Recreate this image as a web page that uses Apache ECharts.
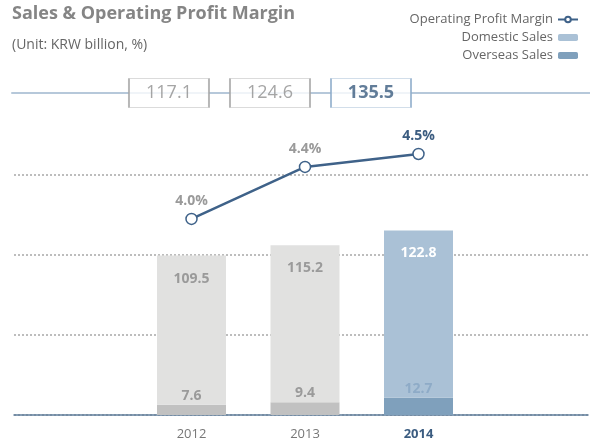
<!DOCTYPE html>
<html>
<head>
<meta charset="utf-8">
<script src="https://cdn.jsdelivr.net/npm/echarts@6/dist/echarts.min.js"></script>
<style>
  html, body { margin: 0; padding: 0; background: #fff; }
  #chart { width: 590px; height: 443px; }
</style>
</head>
<body>
<div id="chart"></div>
<script>
// data
var years = ['2012', '2013', '2014'];
var domesticSales = [109.5, 115.2, 122.8];
var overseasSales = [7.6, 9.4, 12.7];
var profitMargin = [4.0, 4.4, 4.5];
var totals = [117.1, 124.6, 135.5];

var FONT = '"Open Sans", sans-serif';
var GREY_TXT = '#9a9a9a';
var BLUE_TXT = '#3b5c80';

var myChart = echarts.init(document.getElementById('chart'));

var hl = years.length - 1; // highlighted year (2014)

var option = {
    animation: false,
    textStyle: { fontFamily: FONT },
    title: {
        text: 'Sales & Operating Profit Margin',
        subtext: '(Unit: KRW billion, %)',
        left: 7,
        top: 0,
        itemGap: 15,
        textStyle: { fontSize: 18, fontWeight: 'bold', color: '#858585', fontFamily: FONT },
        subtextStyle: { fontSize: 14, color: '#666', fontFamily: FONT }
    },
    legend: {
        orient: 'vertical',
        right: 6,
        top: 8,
        align: 'right',
        itemWidth: 20,
        itemHeight: 7,
        itemGap: 5,
        textStyle: { fontSize: 13, color: '#666', fontFamily: FONT },
        data: ['Operating Profit Margin', 'Domestic Sales', 'Overseas Sales']
    },
    grid: [
        // 0: full-width background gridlines + baseline
        { left: 14, right: 2, top: 175, bottom: 28 },
        // 1: bars and line
        { left: 134.75, right: 114.75, top: 95, bottom: 28 },
        // 2: total boxes on their rule
        { left: 12, right: 0, top: 60, height: 33 }
    ],
    xAxis: [
        {
            gridIndex: 0, type: 'value', min: 0, max: 1,
            axisLine: { show: true, lineStyle: { color: '#5f7d9c', width: 1.5 } },
            axisTick: { show: false }, axisLabel: { show: false }, splitLine: { show: false }
        },
        {
            gridIndex: 1, type: 'category', data: years,
            axisLine: { show: false }, axisTick: { show: false },
            axisLabel: {
                margin: 13,
                formatter: function (v, i) { return i === hl ? '{h|' + v + '}' : '{n|' + v + '}'; },
                rich: {
                    n: { fontSize: 13, color: '#777', fontFamily: FONT },
                    h: { fontSize: 13, color: BLUE_TXT, fontWeight: 'bold', fontFamily: FONT }
                }
            }
        },
        {
            gridIndex: 2, type: 'value', min: -1.554, max: 4.168,
            axisLine: { show: true, lineStyle: { color: '#b6c8da', width: 2 } },
            axisTick: { show: false }, axisLabel: { show: false }, splitLine: { show: false }
        }
    ],
    yAxis: [
        {
            gridIndex: 0, type: 'value', min: 0, max: 3, interval: 1,
            axisLine: { show: false }, axisTick: { show: false }, axisLabel: { show: false },
            splitLine: { show: true, lineStyle: { color: '#a8a8a8', type: [2, 2], width: 1.5 } }
        },
        {
            gridIndex: 1, type: 'value', min: 0, max: 235,
            show: false, splitLine: { show: false }
        },
        {
            gridIndex: 1, type: 'value', min: 2.49, max: 4.954,
            show: false, splitLine: { show: false }
        },
        {
            gridIndex: 2, type: 'value', min: 0, max: 1,
            show: false, splitLine: { show: false }
        }
    ],
    series: [
        {
            name: 'Overseas Sales',
            type: 'bar',
            xAxisIndex: 1, yAxisIndex: 1,
            stack: 'sales',
            barWidth: 69,
            itemStyle: { color: '#7fa0bc' },
            label: {
                show: true, position: 'top', distance: 2,
                fontSize: 14, fontWeight: 'bold', fontFamily: FONT
            },
            data: overseasSales.map(function (v, i) {
                return {
                    value: v,
                    itemStyle: { color: i === hl ? '#7fa0bc' : '#c1c1c1' },
                    label: { color: i === hl ? '#8eabc7' : GREY_TXT }
                };
            })
        },
        {
            name: 'Domestic Sales',
            type: 'bar',
            xAxisIndex: 1, yAxisIndex: 1,
            stack: 'sales',
            barWidth: 69,
            itemStyle: { color: '#aac1d6' },
            label: {
                show: true, position: 'insideTop', distance: 16,
                fontSize: 14, fontWeight: 'bold', fontFamily: FONT
            },
            data: domesticSales.map(function (v, i) {
                return {
                    value: v,
                    itemStyle: { color: i === hl ? '#aac1d6' : '#e1e1e0' },
                    label: { color: i === hl ? '#ffffff' : GREY_TXT }
                };
            })
        },
        {
            name: 'Operating Profit Margin',
            type: 'line',
            xAxisIndex: 1, yAxisIndex: 2,
            z: 5,
            symbol: 'circle',
            symbolSize: 11,
            lineStyle: { color: '#3f6289', width: 2.5 },
            itemStyle: { color: '#fff', borderColor: '#3f6289', borderWidth: 1.5 },
            label: {
                show: true, position: 'top', distance: 5,
                fontSize: 14, fontWeight: 'bold', fontFamily: FONT,
                formatter: function (p) { return p.value.toFixed(1) + '%'; }
            },
            data: profitMargin.map(function (v, i) {
                return { value: v, label: { color: i === hl ? BLUE_TXT : GREY_TXT } };
            })
        },
        {
            name: 'Total',
            type: 'scatter',
            xAxisIndex: 2, yAxisIndex: 3,
            clip: false,
            symbol: 'rect',
            symbolSize: [80, 29],
            silent: true,
            label: {
                show: true, position: 'inside', fontSize: 18, fontFamily: FONT,
                formatter: function (p) { return p.value[2].toFixed(1); }
            },
            data: totals.map(function (t, i) {
                return {
                    value: [i, 0, t],
                    itemStyle: { color: '#fff', borderColor: i === hl ? '#8eaccb' : '#a5a5a5', borderWidth: 1.2 },
                    label: { color: i === hl ? BLUE_TXT : '#8e8e8e', fontWeight: i === hl ? 'bold' : 'normal' }
                };
            })
        }
    ]
};

myChart.setOption(option);
</script>
</body>
</html>
